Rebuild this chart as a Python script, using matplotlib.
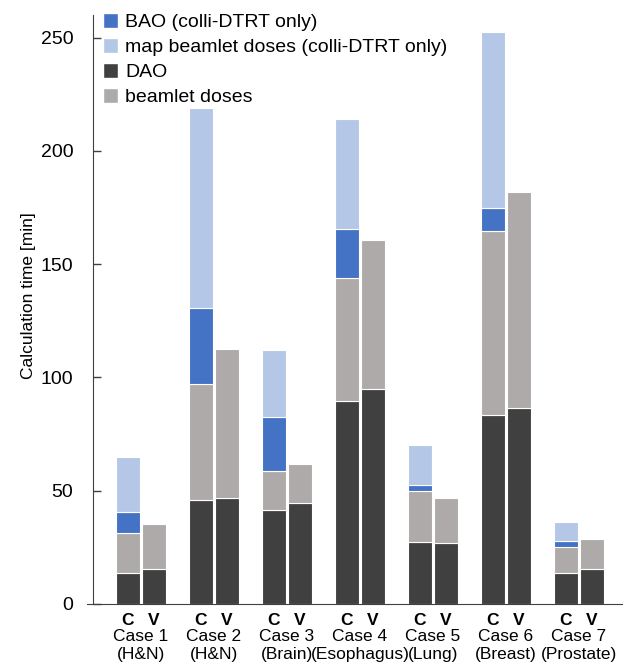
import matplotlib
matplotlib.use("Agg")
import matplotlib.pyplot as plt
from matplotlib.patches import Patch
import numpy as np

plt.rcParams['font.family'] = ['Liberation Sans', 'DejaVu Sans']

cases = ["Case 1\n(H&N)", "Case 2\n(H&N)", "Case 3\n(Brain)", "Case 4\n(Esophagus)",
         "Case 5\n(Lung)", "Case 6\n(Breast)", "Case 7\n(Prostate)"]

# colli-DTRT (C) segments, minutes
c_dao = [13.5, 45.7, 41.6, 89.5, 27.5, 83.3, 13.7]
c_beamlet = [17.8, 51.6, 17.0, 54.5, 22.3, 81.2, 11.4]
c_bao = [9.3, 33.2, 24.0, 21.5, 2.7, 10.5, 2.7]
c_map = [24.5, 88.5, 29.5, 48.6, 17.9, 77.6, 8.5]

# VMAT (V) segments, minutes
v_dao = [15.4, 47.0, 44.4, 94.9, 26.9, 86.4, 15.4]
v_beamlet = [19.9, 65.4, 17.3, 65.9, 19.8, 95.4, 13.4]

col_bao = "#4472C4"
col_map = "#B4C7E7"
col_dao = "#404040"
col_beam = "#AEAAAA"

fig = plt.figure(figsize=(6.25, 6.66), dpi=100)
ax = fig.add_axes([0.139, 0.0931, 0.856, 0.8844])

x = np.arange(len(cases))
w = 0.33
off = 0.18
xc = x - off
xv = x + off
kw = dict(width=w, edgecolor="white", linewidth=0.8)

c_dao = np.array(c_dao)
c_beamlet = np.array(c_beamlet)
c_bao = np.array(c_bao)
c_map = np.array(c_map)

ax.bar(xc, c_dao, color=col_dao, **kw)
ax.bar(xc, c_beamlet, bottom=c_dao, color=col_beam, **kw)
ax.bar(xc, c_bao, bottom=c_dao + c_beamlet, color=col_bao, **kw)
ax.bar(xc, c_map, bottom=c_dao + c_beamlet + c_bao, color=col_map, **kw)

ax.bar(xv, v_dao, color=col_dao, **kw)
ax.bar(xv, v_beamlet, bottom=v_dao, color=col_beam, **kw)

ax.set_xlim(-0.74, 6.59)
ax.set_ylim(0, 260)
ax.set_yticks([0, 50, 100, 150, 200, 250])
ax.tick_params(axis='y', direction='in', length=6, width=1, color='#404040',
               labelsize=14, pad=14)

ax.set_xticks(np.concatenate([xc, xv]))
ax.set_xticklabels(["C"] * len(cases) + ["V"] * len(cases), fontsize=12.5, fontweight='bold')
ax.tick_params(axis='x', length=0, pad=6.5)

for xi, name in zip(x, cases):
    ax.text(xi, -0.043, name, transform=ax.get_xaxis_transform(), ha='center', va='top',
            fontsize=12.5, linespacing=1.22)

for s in ['top', 'right']:
    ax.spines[s].set_visible(False)
ax.spines['left'].set_position(('axes', 0.0107))
ax.spines['left'].set_color('#404040')
ax.spines['bottom'].set_color('#404040')

ax.set_ylabel("Calculation time [min]", fontsize=12.5)
ax.yaxis.set_label_coords(-0.096, 0.524)

handles = [Patch(facecolor=col_bao, edgecolor='white'),
           Patch(facecolor=col_map, edgecolor='white'),
           Patch(facecolor=col_dao, edgecolor='white'),
           Patch(facecolor=col_beam, edgecolor='white')]
labels = ["BAO (colli-DTRT only)", "map beamlet doses (colli-DTRT only)", "DAO", "beamlet doses"]
ax.legend(handles, labels, loc='upper left', bbox_to_anchor=(0.03, 1.003), frameon=False,
          fontsize=14, handlelength=0.8, handleheight=0.8, handletextpad=0.36,
          labelspacing=0.34, borderpad=0, borderaxespad=0)

plt.savefig("out.png", dpi=100)
